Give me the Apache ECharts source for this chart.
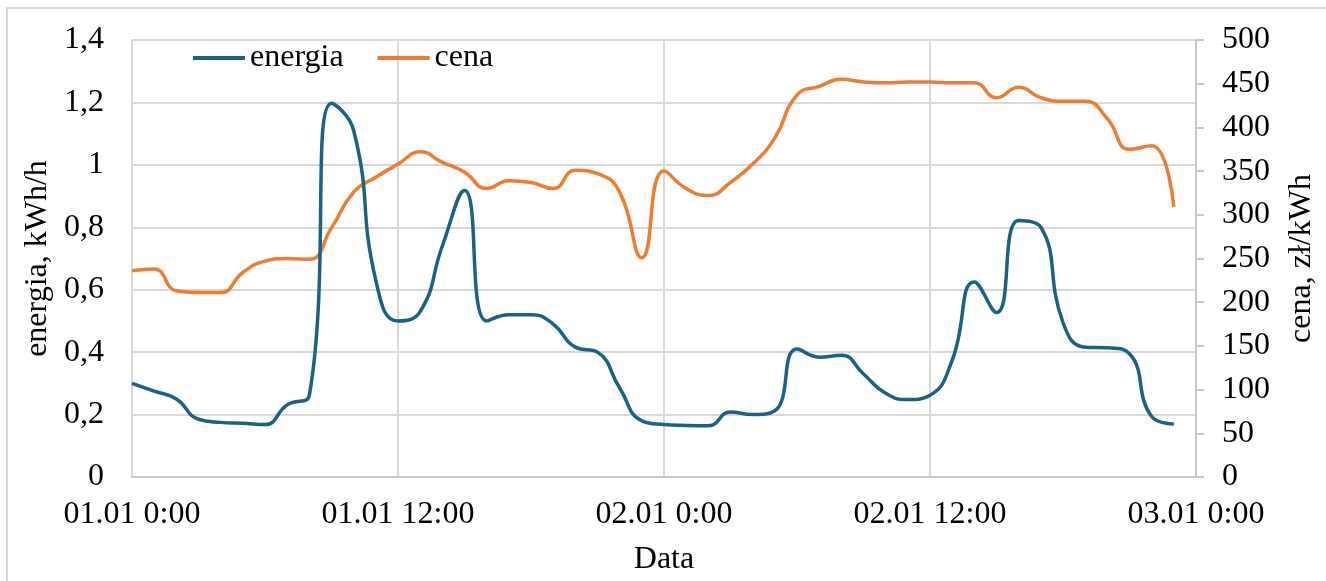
<!DOCTYPE html>
<html>
<head>
<meta charset="utf-8">
<script src="https://cdn.jsdelivr.net/npm/echarts@6/dist/echarts.min.js"></script>
<style>
html,body{margin:0;padding:0;background:#fff;}
#chart{width:1326px;height:581px;}
</style>
</head>
<body>
<div id="chart"></div>
<script>
// Hours since 01.01 0:00
const hours = [0,1,2,3,4,5,6,7,8,9,10,11,12,13,14,15,16,17,18,19,20,21,22,23,
               24,25,26,27,28,29,30,31,32,33,34,35,36,37,38,39,40,41,42,43,44,45,46,47];
// energia, kWh/h
const energia = [0.30,0.275,0.25,0.185,0.175,0.172,0.168,0.231,0.262,1.197,1.11,0.63,
                 0.50,0.53,0.74,0.918,0.50,0.52,0.52,0.49,0.416,0.40,0.285,0.18,
                 0.168,0.165,0.164,0.208,0.200,0.212,0.41,0.384,0.39,0.33,0.268,0.248,
                 0.262,0.374,0.625,0.527,0.822,0.800,0.495,0.416,0.414,0.395,0.194,0.17];
// cena, zł/kWh
const cena = [236,238,213,211,211,234,247,250,249,285,326,343,
              358,372,360,349,330,339,337,330,351,347,326,251,
              350,330,322,337,358,388,437,447,455,452,451,452,
              452,451,451,434,446,434,430,430,410,375,379,309];
const xTickLabels = ['01.01 0:00','01.01 12:00','02.01 0:00','02.01 12:00','03.01 0:00'];

const FONT = "'Liberation Serif','Times New Roman',serif";
const FS = 32;
const chart = echarts.init(document.getElementById('chart'), null, {renderer:'canvas'});
chart.setOption({
  animation:false,
  backgroundColor:'#fff',
  textStyle:{fontFamily:FONT,color:'#000'},
  graphic:[{type:'rect',shape:{x:7,y:8,width:1400,height:700},style:{fill:'none',stroke:'#d9d9d9',lineWidth:2},z:-10}],
  grid:{left:132,right:129,top:40,bottom:100,containLabel:false},
  legend:{
    left:188, top:37, itemWidth:52, itemHeight:4, itemGap:34, icon:'rect',
    textStyle:{fontFamily:FONT,fontSize:FS,color:'#000',padding:[0,0,0,0]},
    data:['energia','cena']
  },
  xAxis:{
    type:'value', min:0, max:48, interval:12,
    name:'Data', nameLocation:'middle', nameGap:67,
    nameTextStyle:{fontFamily:FONT,fontSize:FS,color:'#000'},
    axisLine:{show:true,lineStyle:{color:'#c8c8c8',width:2}},
    axisTick:{show:false},
    axisLabel:{fontFamily:FONT,fontSize:FS,color:'#000',margin:22,
      formatter:function(v){return xTickLabels[Math.round(v/12)];}},
    splitLine:{show:true,lineStyle:{color:'#d9d9d9',width:2}}
  },
  yAxis:[{
    type:'value', min:0, max:1.4, interval:0.2, position:'left',
    name:'energia, kWh/h', nameLocation:'middle', nameGap:64, nameRotate:90,
    nameTextStyle:{fontFamily:FONT,fontSize:FS,color:'#000'},
    axisLine:{show:true,lineStyle:{color:'#d9d9d9',width:2}},
    axisTick:{show:false},
    axisLabel:{fontFamily:FONT,fontSize:FS,color:'#000',margin:28,
      formatter:function(v){return (Math.round(v*10)/10).toString().replace('.',',');}},
    splitLine:{show:true,lineStyle:{color:'#d9d9d9',width:2}}
  },{
    type:'value', min:0, max:500, interval:50, position:'right',
    name:'cena, zł/kWh', nameLocation:'middle', nameGap:90, nameRotate:90,
    nameTextStyle:{fontFamily:FONT,fontSize:FS,color:'#000'},
    axisLine:{show:true,lineStyle:{color:'#c8c8c8',width:2}},
    axisTick:{show:true,inside:false,length:8,lineStyle:{color:'#c8c8c8',width:2}},
    axisLabel:{fontFamily:FONT,fontSize:FS,color:'#000',margin:26},
    splitLine:{show:false}
  }],
  series:[{
    name:'energia', type:'line', yAxisIndex:0, smooth:0.5, showSymbol:false, symbol:'none',
    data:hours.map((h,i)=>[h,energia[i]]),
    lineStyle:{color:'#1b6184',width:3.5}, itemStyle:{color:'#1b6184'}, z:3
  },{
    name:'cena', type:'line', yAxisIndex:1, smooth:0.5, showSymbol:false, symbol:'none',
    data:hours.map((h,i)=>[h,cena[i]]),
    lineStyle:{color:'#ed7d31',width:3.5}, itemStyle:{color:'#ed7d31'}, z:2
  }]
});
</script>
</body>
</html>
